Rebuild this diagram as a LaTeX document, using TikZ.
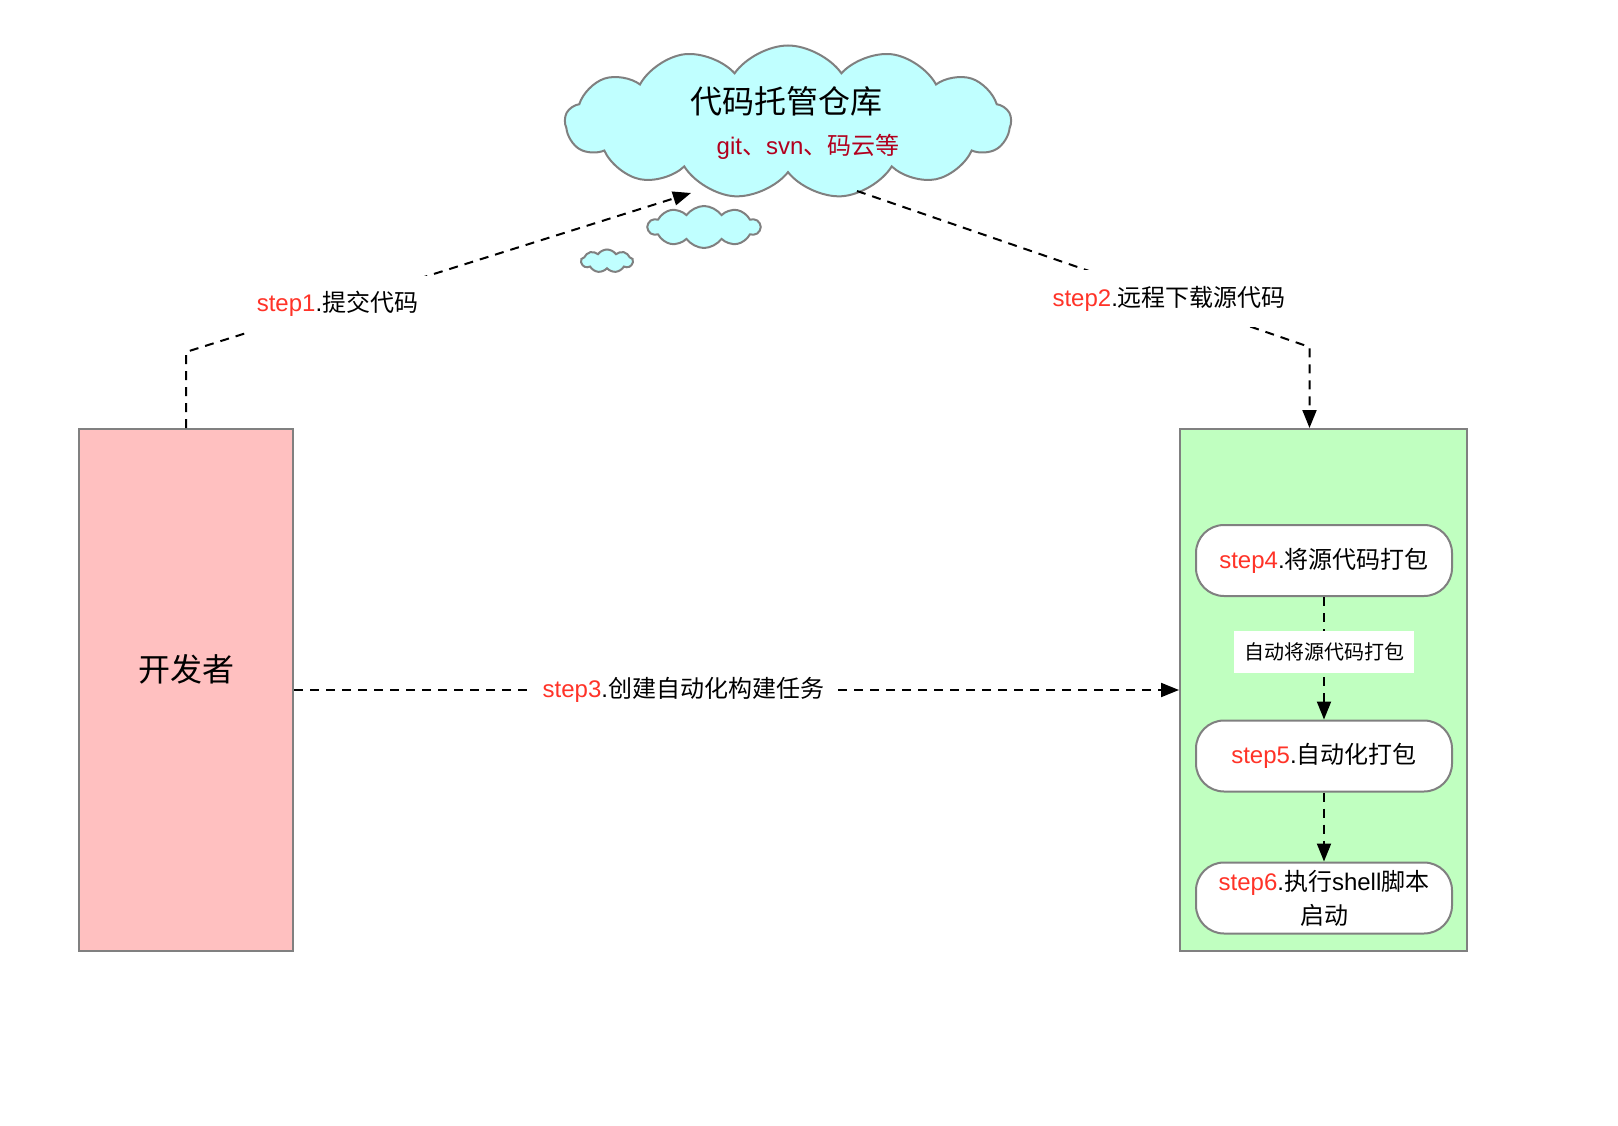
\documentclass[tikz,border=0pt]{standalone}
\usepackage{fontspec}
\setmainfont{Noto Sans CJK SC}
\newfontfamily\lsans{Liberation Sans}
\usetikzlibrary{shapes.symbols,arrows.meta}
\definecolor{stepred}{RGB}{255,51,40}
\definecolor{subred}{RGB}{178,0,30}
\definecolor{edgegray}{RGB}{128,128,128}
\definecolor{devpink}{RGB}{255,192,192}
\definecolor{buildgreen}{RGB}{192,255,192}
\definecolor{cloudcyan}{RGB}{192,255,255}
\tikzstyle{box}=[draw=edgegray,line width=2pt,rectangle,align=center]
\tikzstyle{task}=[draw=edgegray,line width=2pt,fill=white,rounded corners=28pt,minimum width=256pt,minimum height=71pt,align=center,font=\fontsize{24}{34}\selectfont]
\tikzstyle{puff}=[draw=edgegray,line width=2pt,fill=cloudcyan,cloud,cloud puffs=13,cloud puff arc=110,aspect=2.6]
\tikzstyle{flow}=[line width=2pt,dash pattern=on 9pt off 7pt,-{Triangle[length=18pt,width=14pt]}]
\tikzstyle{steplbl}=[fill=white,font=\fontsize{24}{29}\selectfont,inner xsep=10pt,inner ysep=16pt]
\newcommand\stepno[1]{{\lsans\textcolor{stepred}{step#1}.}}

\begin{document}
\begin{tikzpicture}[x=1pt,y=-1pt]
\fill[white] (0,0) rectangle (1618,1126);
\useasboundingbox (0,0) rectangle (1618,1126);

% repository cloud
\node[puff,minimum width=446pt,minimum height=153pt] (repo) at (788,122) {};
\node[font=\fontsize{32}{38}\selectfont] (repotitle) at (786,101) {代码托管仓库};
\node[font=\fontsize{24}{29}\selectfont,text=subred] (reposub) at (808,147) {{\lsans git}、{\lsans svn}、码云等};
\node[puff,cloud puffs=10,minimum width=112pt,minimum height=42pt] (bubbleA) at (704,227) {};
\node[puff,cloud puffs=9,minimum width=52pt,minimum height=23pt] (bubbleB) at (607,261) {};
\coordinate (repoin) at (691,193);
\coordinate (repoout) at (857,191);

% developer and build server
\node[box,fill=devpink,minimum width=214pt,minimum height=522pt] (dev) at (186,690) {};
\node[font=\fontsize{32}{38}\selectfont] (devname) at (186,669) {开发者};
\node[box,fill=buildgreen,minimum width=287pt,minimum height=522pt] (build) at (1323.5,690) {};

\node[task] (pack) at (1324,560.5) {\stepno{4}将源代码打包};
\node[task] (auto) at (1324,756) {\stepno{5}自动化打包};
\node[task] (run) at (1324,898) {\stepno{6}执行{\lsans shell}脚本\\启动};

\draw[flow] (dev.north) -- ++(0,-76) -- node[steplbl,pos=0.3] (step1) {\stepno{1}提交代码} (repoin);
\draw[flow] (repoout) -- node[steplbl,pos=0.69] (step2) {\stepno{2}远程下载源代码} ([xshift=-14pt,yshift=81pt]build.north) -- ([xshift=-14pt]build.north);
\draw[flow] (dev.east) -- node[steplbl,pos=0.44] (step3) {\stepno{3}创建自动化构建任务} (build.west);

\draw[flow] (pack) -- node[fill=white,inner xsep=10pt,inner ysep=12pt,font=\fontsize{20}{24}\selectfont,pos=0.45] (packnote) {自动将源代码打包} (auto);
\draw[flow] (auto) -- (run);
\end{tikzpicture}
\end{document}
